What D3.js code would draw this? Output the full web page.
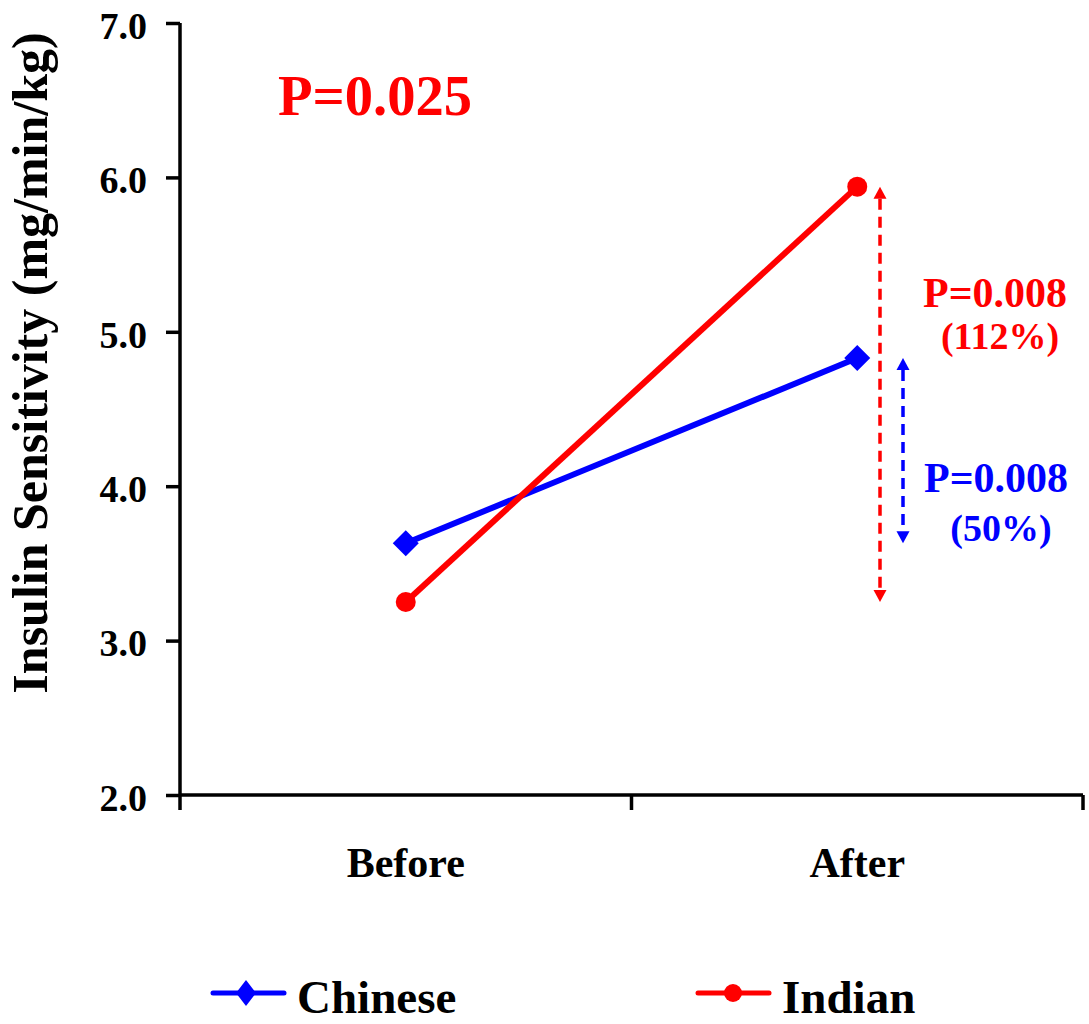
<!DOCTYPE html>
<html>
<head>
<meta charset="utf-8">
<script src="https://cdn.jsdelivr.net/npm/d3@7"></script>
<style>
  html, body { margin: 0; padding: 0; background: #fff; }
  svg { display: block; }
  text { font-family: "Liberation Serif", "Times New Roman", serif; font-weight: bold; }
</style>
</head>
<body>
<svg id="chart" width="1089" height="1024"></svg>
<script>
// Insulin sensitivity before / after, by ethnic group
const periods = ["Before", "After"];
const groups = ["Chinese", "Indian"];
const chineseValues = [3.63, 4.83];
const indianValues = [3.25, 5.94];
const yTicks = [2.0, 3.0, 4.0, 5.0, 6.0, 7.0];
const groupColors = ["#0000ff", "#ff0000"];
const overallP = "P=0.025";
const changeLabels = [
  { p: "P=0.008", pct: "(50%)" },
  { p: "P=0.008", pct: "(112%)" }
];

const series = groups.map((g, i) => ({
  name: g,
  color: groupColors[i],
  values: (i === 0 ? chineseValues : indianValues),
  shape: i === 0 ? "diamond" : "circle"
}));

const svg = d3.select("#chart");
const plotLeft = 180, plotRight = 1083, plotTop = 23, plotBottom = 795;

const y = d3.scaleLinear().domain([2, 7]).range([plotBottom, plotTop]);
const x = d3.scaleBand().domain(periods).range([plotLeft, plotRight]);
const cx = p => x(p) + x.bandwidth() / 2;

// Y axis
const yAxis = svg.append("g")
  .attr("transform", `translate(${plotLeft},0)`)
  .call(d3.axisLeft(y).tickValues(yTicks).tickFormat(d3.format(".1f")).tickSize(14).tickPadding(19));
yAxis.select(".domain").attr("d", `M0,${plotTop}V${plotBottom + 15}`).attr("stroke-width", 3.5);
yAxis.selectAll(".tick line").attr("stroke-width", 3.5);
yAxis.selectAll(".tick text")
  .attr("font-size", 38).attr("fill", "#000").attr("dy", "0.4em")
  .style("font-family", "'Liberation Serif', serif").style("font-weight", "bold");

// X axis: line, boundary ticks, centred category labels
const xg = svg.append("g");
xg.append("line").attr("x1", plotLeft).attr("x2", plotRight).attr("y1", plotBottom).attr("y2", plotBottom)
  .attr("stroke", "#000").attr("stroke-width", 3.5);
const boundaries = [x.range()[0] + x.step(), x.range()[1]];
xg.selectAll(".xt").data(boundaries).join("line")
  .attr("x1", d => d).attr("x2", d => d).attr("y1", plotBottom).attr("y2", plotBottom + 15)
  .attr("stroke", "#000").attr("stroke-width", 3.5);
xg.selectAll(".xl").data(periods).join("text")
  .attr("x", d => cx(d)).attr("y", 877).attr("text-anchor", "middle")
  .attr("font-size", 42).attr("fill", "#000").text(d => d);

// Y axis title
svg.append("text")
  .attr("transform", "translate(47,363) rotate(-90)")
  .attr("text-anchor", "middle").attr("font-size", 50).attr("fill", "#000")
  .text("Insulin Sensitivity (mg/min/kg)");

// Lines and markers
const line = d3.line().x((d, i) => cx(periods[i])).y(d => y(d));
const diamond = (s) => `M0,${-s}L${s},0L0,${s}L${-s},0Z`;

series.forEach(s => {
  svg.append("path").attr("d", line(s.values))
    .attr("fill", "none").attr("stroke", s.color).attr("stroke-width", 6);
  s.values.forEach((v, i) => {
    if (s.shape === "diamond") {
      svg.append("path").attr("d", diamond(13))
        .attr("transform", `translate(${cx(periods[i])},${y(v)})`).attr("fill", s.color);
    } else {
      svg.append("circle").attr("cx", cx(periods[i])).attr("cy", y(v)).attr("r", 10).attr("fill", s.color);
    }
  });
});

// Dashed double arrows showing each group's change
const arrowX = [903, 880];
series.forEach((s, i) => {
  const ax = arrowX[i];
  const yTop = y(d3.max(s.values)), yBot = y(d3.min(s.values));
  const head = 12, half = 6.5;
  svg.append("line").attr("x1", ax).attr("x2", ax)
    .attr("y1", yTop + head).attr("y2", yBot - head)
    .attr("stroke", s.color).attr("stroke-width", 3.5).attr("stroke-dasharray", "11,7");
  svg.append("path").attr("d", `M${ax},${yTop}L${ax + half},${yTop + head}L${ax - half},${yTop + head}Z`).attr("fill", s.color);
  svg.append("path").attr("d", `M${ax},${yBot}L${ax + half},${yBot - head}L${ax - half},${yBot - head}Z`).attr("fill", s.color);
});

// Change annotations
const annPos = [
  { x: 996, y1: 492, y2: 541 },
  { x: 995, y1: 307, y2: 349 }
];
series.forEach((s, i) => {
  const a = annPos[i];
  svg.append("text").attr("x", a.x).attr("y", a.y1).attr("text-anchor", "middle")
    .attr("font-size", 42).attr("fill", s.color)
    .attr("textLength", 144).attr("lengthAdjust", "spacingAndGlyphs")
    .text(changeLabels[i].p);
  svg.append("text").attr("x", a.x + 5).attr("y", a.y2).attr("text-anchor", "middle")
    .attr("font-size", 38).attr("fill", s.color)
    .text(changeLabels[i].pct);
});

// Overall group x time p-value
svg.append("text").attr("x", 278).attr("y", 115)
  .attr("font-size", 56).attr("fill", groupColors[1])
  .attr("textLength", 194).attr("lengthAdjust", "spacingAndGlyphs")
  .text(overallP);

// Legend
const legendX = [213, 698];
series.forEach((s, i) => {
  const g = svg.append("g").attr("transform", `translate(${legendX[i]},993)`);
  g.append("line").attr("x1", 0).attr("x2", 71).attr("y1", 0).attr("y2", 0)
    .attr("stroke", s.color).attr("stroke-width", 5).attr("stroke-linecap", "round");
  if (s.shape === "diamond") {
    g.append("path").attr("d", `M0,-13L10,0L0,13L-10,0Z`).attr("transform", "translate(33,0)").attr("fill", s.color);
  } else {
    g.append("circle").attr("cx", 35).attr("cy", 0).attr("r", 9).attr("fill", s.color);
  }
  g.append("text").attr("x", 84).attr("y", 20).attr("font-size", 47).attr("fill", "#000").text(s.name);
});
</script>
</body>
</html>
